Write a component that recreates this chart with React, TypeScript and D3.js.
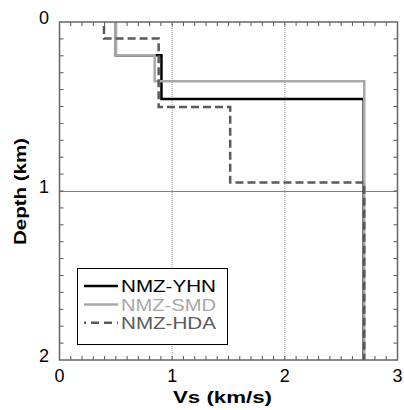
import React from "react";
import * as d3 from "d3";

const xTicks = [0, 1, 2, 3];
const yTicks = [0, 1, 2];

const yhnVs = [0.5, 0.905, 2.7];
const yhnTop = [0, 0.197, 0.455];
const smdVs = [0.5, 0.845, 2.705];
const smdTop = [0, 0.197, 0.35];
const hdaVs = [0.395, 0.88, 1.515, 2.705];
const hdaTop = [0, 0.097, 0.503, 0.95];
const maxDepth = 2;

const seriesNames = ["NMZ-YHN", "NMZ-SMD", "NMZ-HDA"];

const W = 404, H = 410;
const L = 59.5, R = 397.5, T = 22, B = 360;

function stepPoints(vs: number[], tops: number[]): [number, number][] {
  const pts: [number, number][] = [];
  vs.forEach((v, i) => {
    const bot = i + 1 < tops.length ? tops[i + 1] : maxDepth;
    pts.push([v, tops[i]]);
    pts.push([v, bot]);
  });
  return pts;
}

export default function App() {
  const x = d3.scaleLinear().domain([0, 3]).range([L, R]);
  const y = d3.scaleLinear().domain([0, 2]).range([T, B]);
  const line = d3.line<[number, number]>().x(d => x(d[0])).y(d => y(d[1]));
  const xMinor = d3.range(0, 30).map(i => i / 10).filter(v => v > 0);
  const yMinor = d3.range(0, 20).map(i => i / 10).filter(v => v > 0);
  const font = "'Liberation Sans', Arial, sans-serif";
  const series = [
    { name: seriesNames[0], pts: stepPoints(yhnVs, yhnTop), color: "#000", dash: undefined as string | undefined, w: 2.5 },
    { name: seriesNames[1], pts: stepPoints(smdVs, smdTop), color: "#a8a8a8", dash: undefined, w: 2.5 },
    { name: seriesNames[2], pts: stepPoints(hdaVs, hdaTop), color: "#5a5a5a", dash: "8,4", w: 2.5 },
  ];
  const legX = 77.5, legY = 268.5, legW = 150, legH = 76;
  const rowY = [286, 304.5, 322.7];
  return (
    <svg width={W} height={H} style={{ position: "absolute", left: 0, top: 0, background: "#fff" }}>
      <rect x={0} y={0} width={W} height={H} fill="#fff" />
      {/* grid */}
      {[1, 2].map(v => (
        <line key={"gx" + v} x1={x(v)} x2={x(v)} y1={T} y2={B} stroke="#999" strokeWidth={1} strokeDasharray="1,1" />
      ))}
      <line x1={L} x2={R} y1={Math.round(y(1)) + 0.5} y2={Math.round(y(1)) + 0.5} stroke="#000" strokeWidth={1} strokeDasharray="1,1" />
      {/* minor ticks */}
      {xMinor.map(v => (
        <g key={"xt" + v}>
          <line x1={x(v)} x2={x(v)} y1={T} y2={T + 4} stroke="#555" strokeWidth={1} />
          <line x1={x(v)} x2={x(v)} y1={B} y2={B - 4} stroke="#555" strokeWidth={1} />
        </g>
      ))}
      {yMinor.map(v => (
        <g key={"yt" + v}>
          <line x1={L} x2={L + 4} y1={y(v)} y2={y(v)} stroke="#555" strokeWidth={1} />
          <line x1={R} x2={R - 4} y1={y(v)} y2={y(v)} stroke="#555" strokeWidth={1} />
        </g>
      ))}
      {/* series */}
      {series.map(s => (
        <path key={s.name} d={line(s.pts) || ""} fill="none" stroke={s.color} strokeWidth={s.w}
          strokeDasharray={s.dash} strokeDashoffset={s.dash ? 8 : undefined} />
      ))}
      {/* frame */}
      <rect x={L} y={T} width={R - L} height={B - T} fill="none" stroke="#666" strokeWidth={1.5} />
      {/* tick labels */}
      {xTicks.map(v => (
        <text key={"xl" + v} x={x(v)} y={382} textAnchor="middle" fontFamily={font} fontSize={18} fill="#000">{v}</text>
      ))}
      {yTicks.map(v => (
        <text key={"yl" + v} x={49} y={y(v) + 2} textAnchor="end" fontFamily={font} fontSize={18} fill="#000">{v}</text>
      ))}
      {/* axis titles */}
      <text x={(L + R) / 2 - 6} y={403} textAnchor="middle" fontFamily={font} fontSize={16} fontWeight="bold" textLength={99} lengthAdjust="spacingAndGlyphs">Vs (km/s)</text>
      <text transform={`translate(26,191.5) rotate(-90)`} textAnchor="middle" fontFamily={font} fontSize={16} fontWeight="bold" textLength={107} lengthAdjust="spacingAndGlyphs">Depth (km)</text>
      {/* legend */}
      <rect x={legX} y={legY} width={legW} height={legH} fill="#fff" stroke="#000" strokeWidth={1} />
      {series.map((s, i) => (
        <g key={"lg" + s.name}>
          <line x1={84} x2={118} y1={rowY[i]} y2={rowY[i]} stroke={s.color} strokeWidth={s.w}
            strokeDasharray={s.dash ? "8,5" : undefined} strokeDashoffset={s.dash ? -7 : undefined} />
          <text x={121} y={rowY[i] + 6} fontFamily={font} fontSize={17} fill={s.color} textLength={95} lengthAdjust="spacingAndGlyphs">{s.name}</text>
        </g>
      ))}
    </svg>
  );
}
